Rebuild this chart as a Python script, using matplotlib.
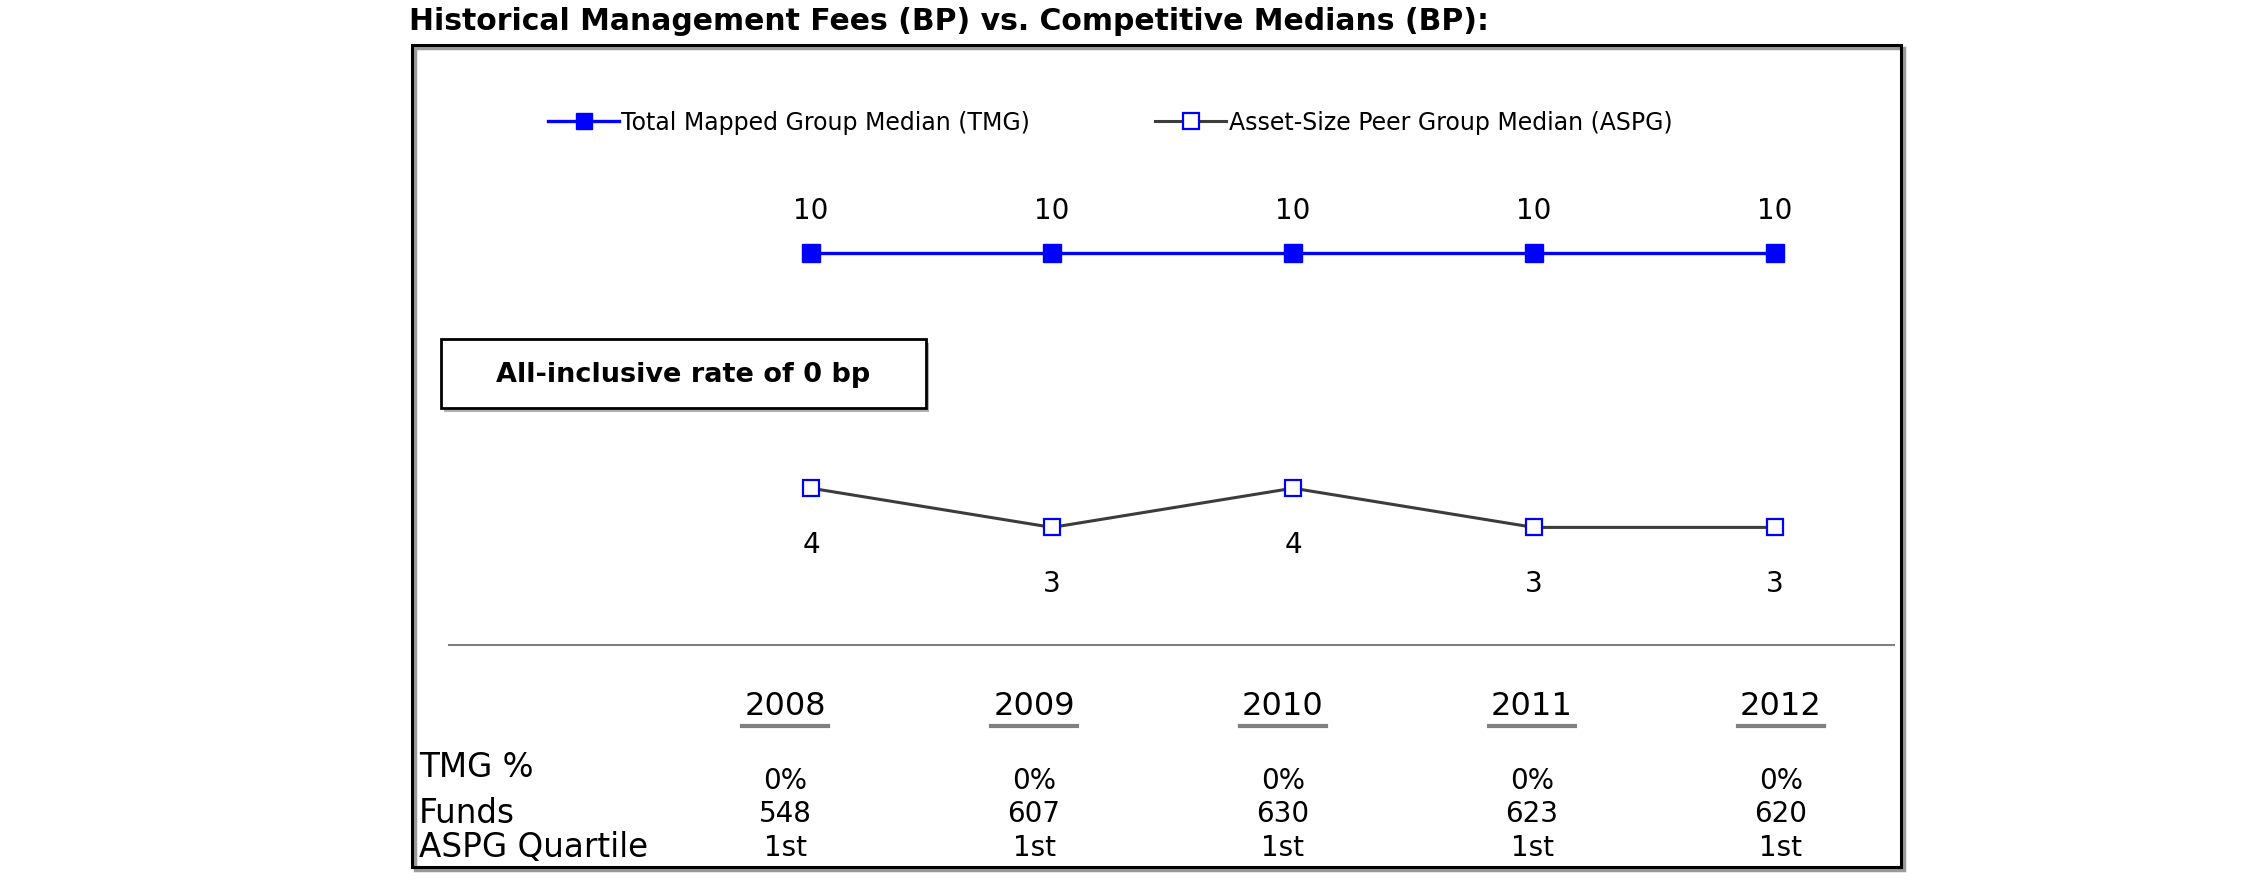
import numpy as np
import matplotlib
matplotlib.use('Agg')
import matplotlib.pyplot as plt
import matplotlib.patches as patches
from matplotlib.lines import Line2D

years = ['2008', '2009', '2010', '2011', '2012']
tmg = [10, 10, 10, 10, 10]
aspg = [4, 3, 4, 3, 3]
tmg_pct = ['0%', '0%', '0%', '0%', '0%']
funds = ['548', '607', '630', '623', '620']
quartile = ['1st', '1st', '1st', '1st', '1st']
row_labels = ['TMG %', 'Funds', 'ASPG Quartile']

W, H = 2250, 895


def fx(px):
    return px / W


def fy(py):
    return 1 - py / H


fig = plt.figure(figsize=(22.5, 8.95), dpi=100)
plt.rcParams['font.family'] = 'DejaVu Sans'

# outer frame with a slight shadow
shadow = patches.Rectangle((fx(415), fy(871)), fx(1901 - 412), (868 - 46) / H,
                           transform=fig.transFigure, fill=False,
                           edgecolor='#9a9a9a', linewidth=2.5)
frame = patches.Rectangle((fx(412), fy(868)), fx(1901 - 412), (868 - 46) / H,
                          transform=fig.transFigure, fill=False,
                          edgecolor='black', linewidth=2.2)
fig.patches.extend([shadow, frame])

fig.text(fx(409), fy(22), 'Historical Management Fees (BP) vs. Competitive Medians (BP):',
         fontsize=21.5, fontweight='bold', ha='left', va='center')

# chart area: x=0..4 -> 811..1775 px, y=0 -> 646 px, y=10 -> 254 px
ax = fig.add_axes([fx(449), fy(646), fx(1894 - 449), (646 - 254) / H])
x = np.arange(len(years))
ax.set_xlim(-1.502, 4.494)
ax.set_ylim(0, 10)
for s in ['top', 'left', 'right']:
    ax.spines[s].set_visible(False)
ax.spines['bottom'].set_color('#808080')
ax.spines['bottom'].set_linewidth(1.5)
ax.set_xticks([])
ax.set_yticks([])
ax.patch.set_alpha(0)

l1, = ax.plot(x, tmg, color='#0000ff', linewidth=2.4, marker='s', markersize=12.5,
              markerfacecolor='#0000ff', markeredgecolor='#0000ff', clip_on=False,
              label='Total Mapped Group Median (TMG)')
l2, = ax.plot(x, aspg, color='#3c3c3c', linewidth=2.2, marker='s', markersize=12,
              markerfacecolor='white', markeredgecolor='#0000ff', markeredgewidth=1.6,
              clip_on=False, label='Asset-Size Peer Group Median (ASPG)')

for xi, v in zip(x, tmg):
    ax.annotate(str(v), (xi, v), xytext=(0, 31), textcoords='offset points',
                ha='center', va='center', fontsize=20)
for xi, v in zip(x, aspg):
    ax.annotate(str(v), (xi, v), xytext=(0, -40), textcoords='offset points',
                ha='center', va='center', fontsize=20)

fig.legend(handles=[l1, l2], loc='center left', bbox_to_anchor=(fx(527), fy(123)),
           ncol=2, frameon=False, fontsize=17, handlelength=3.0,
           handletextpad=0.1, columnspacing=5.3, markerscale=0.95)

# annotation box
bx0, by0, bx1, by1 = 441, 340, 926, 409
fig.patches.append(patches.Rectangle((fx(bx0 + 3), fy(by1 + 4)), fx(bx1 - bx0), (by1 - by0) / H,
                                     transform=fig.transFigure, facecolor='#b0b0b0',
                                     edgecolor='none'))
fig.patches.append(patches.Rectangle((fx(bx0), fy(by1)), fx(bx1 - bx0), (by1 - by0) / H,
                                     transform=fig.transFigure, facecolor='white',
                                     edgecolor='black', linewidth=2))
fig.text(fx((bx0 + bx1) / 2), fy((by0 + by1) / 2), 'All-inclusive rate of 0 bp',
         fontsize=19.5, fontweight='bold', ha='center', va='center')

# table below the chart
col0, dcol = 785, 249
for i, yr in enumerate(years):
    cx = col0 + i * dcol
    fig.text(fx(cx), fy(707), yr, fontsize=23, ha='center', va='center')
    fig.add_artist(Line2D([fx(cx - 43), fx(cx + 43)], [fy(727), fy(727)],
                          color='#808080', linewidth=3))
    fig.text(fx(cx), fy(781), tmg_pct[i], fontsize=20, ha='center', va='center')
    fig.text(fx(cx), fy(814), funds[i], fontsize=20, ha='center', va='center')
    fig.text(fx(cx), fy(848), quartile[i], fontsize=20, ha='center', va='center')

for lab, yy in zip(row_labels, [768, 814, 848]):
    fig.text(fx(419), fy(yy), lab, fontsize=23.5, ha='left', va='center')

fig.savefig('out.png', dpi=100)
